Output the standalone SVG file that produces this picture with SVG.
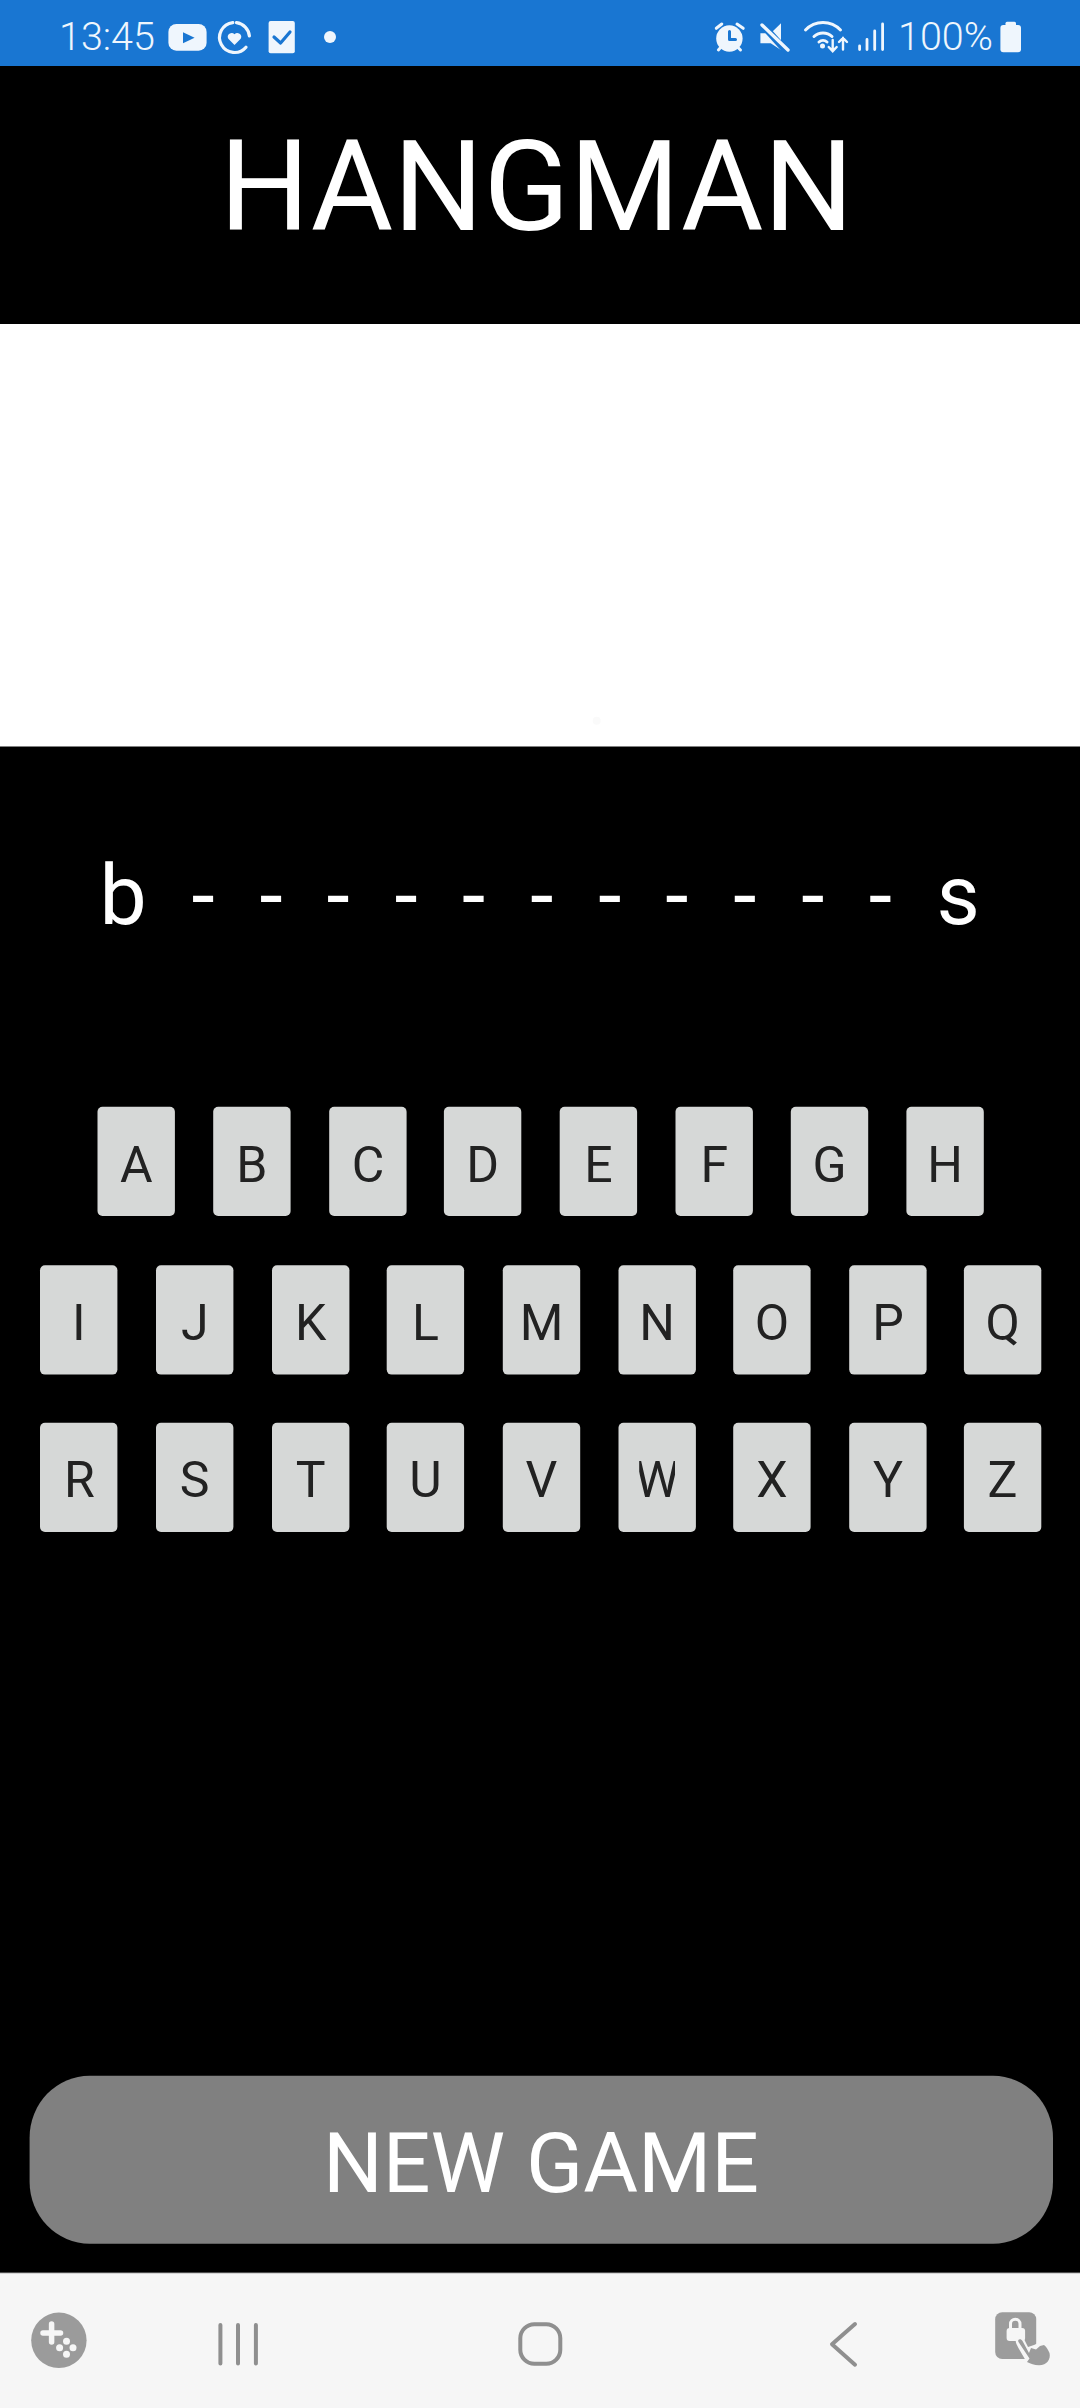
<svg xmlns="http://www.w3.org/2000/svg" width="1080" height="2408" viewBox="0 0 1080 2408">
<defs>
<style>
text{font-family:Roboto,"Liberation Sans",sans-serif}
.k{fill:#d6d8d7}
.kt{fill:#222;font-size:50px;text-anchor:middle}
.st{fill:#eff6fd;font-size:39px;font-weight:300}
.wt{fill:#fff}
.ic{fill:#eff6fd}
.ls{fill:none;stroke:#eff6fd;stroke-linecap:round}
.bl{fill:none;stroke:#1976d2;stroke-linecap:round;stroke-linejoin:round}
.nav{fill:none;stroke:#8f8f8f;stroke-width:4;stroke-linecap:round;stroke-linejoin:round}
</style>
<clipPath id="wclip"><rect x="639.2" y="1440" width="35.8" height="70"/></clipPath>
</defs>
<rect width="1080" height="2408" fill="#000"/>

<g id="status-bar">
<rect width="1080" height="66" fill="#1976d2"/>
<text class="st" x="59" y="50" style="font-size:39.5px">13:45</text>
<g id="icon-youtube"><rect class="ic" x="168.4" y="24" width="38.2" height="26.7" rx="8"/><path d="M183 32.3L194.6 37.8L183 43.3Z" fill="#1976d2"/></g>
<g id="icon-health"><path class="ls" stroke-width="3.2" d="M232.8 22.6A15 15 0 1 0 246 47.2M236.5 22.6A15 15 0 0 1 249.4 36"/><path class="ic" d="M234.5 45L228.3 38.8A3.9 3.9 0 0 1 234.5 34.2A3.9 3.9 0 0 1 240.7 38.8Z"/></g>
<g id="icon-check"><rect class="ic" x="268.6" y="21" width="26.2" height="32.3" rx="2"/><path class="bl" stroke-width="3.2" d="M274 37L280.6 43L290 32"/></g>
<circle class="ic" cx="330" cy="37" r="6"/>
<g id="icon-alarm"><circle class="ic" cx="729.4" cy="38.5" r="13.2"/><path class="ls" stroke-width="3" d="M716.3 28.3L721.8 24M743.2 28.3L737 24M718.4 50L721.5 46.5M740.5 50L737 46.5"/><path class="bl" stroke-width="3" d="M729.5 31.5V39.5H735.5"/></g>
<g id="icon-mute"><path class="ic" d="M781 23.3V50L770.7 43.3H760.4V33.3H770.7Z"/><path d="M760 22L787 52" stroke="#1976d2" stroke-width="7"/><path class="ls" stroke-width="3.4" d="M762 25L788 50"/></g>
<g id="icon-wifi"><path class="ls" stroke-width="3" d="M805.5 30A24 24 0 0 1 840.5 30M814 36.5A13 13 0 0 1 832 36.5M819 42A6 6 0 0 1 827 42"/><circle class="ic" cx="822.5" cy="46" r="2.5"/><path class="ls" stroke-width="2.4" d="M832.7 40V51M828.7 47L832.7 51.2L836.7 47M843 38V49.5M839 42L843 38L847 42"/></g>
<g id="icon-signal"><path class="ls" stroke-width="2.8" d="M859.6 46V49.5M867 39.5V49.5M874.7 31V49.5M882.6 24V49.5"/></g>
<text class="st" x="898" y="50" style="font-size:39.5px">100%</text>
<g id="icon-battery"><rect class="ic" x="1000.4" y="25" width="20.6" height="27.3" rx="3"/><rect class="ic" x="1005.5" y="21.7" width="10.5" height="6" rx="1.5"/></g>
</g>

<g id="title"><text x="219.5" y="230.3" font-size="126.4" class="wt">HANGMAN</text></g>

<rect id="image-panel" x="0" y="324" width="1080" height="422.5" fill="#fff"/>
<circle cx="596.7" cy="720.7" r="4" fill="#fafafa"/>

<g id="word">
<text y="923.7" font-size="84" class="wt"><tspan x="99.5">b</tspan><tspan x="191.6">-</tspan><tspan x="259.6">-</tspan><tspan x="326.5">-</tspan><tspan x="394.6">-</tspan><tspan x="462.1">-</tspan><tspan x="530.2">-</tspan><tspan x="598.3">-</tspan><tspan x="665.2">-</tspan><tspan x="733.2">-</tspan><tspan x="801.3">-</tspan><tspan x="868.8">-</tspan><tspan x="936.5">s</tspan></text>
</g>

<g id="keys">
<g id="key-A"><rect class="k" x="97.5" y="1106.7" width="77.4" height="109.3" rx="5"/><text class="kt" x="136.2" y="1181.7">A</text></g>
<g id="key-B"><rect class="k" x="213.2" y="1106.7" width="77.4" height="109.3" rx="5"/><text class="kt" x="251.9" y="1181.7">B</text></g>
<g id="key-C"><rect class="k" x="329.2" y="1106.7" width="77.4" height="109.3" rx="5"/><text class="kt" x="367.9" y="1181.7">C</text></g>
<g id="key-D"><rect class="k" x="443.9" y="1106.7" width="77.4" height="109.3" rx="5"/><text class="kt" x="482.6" y="1181.7">D</text></g>
<g id="key-E"><rect class="k" x="559.7" y="1106.7" width="77.4" height="109.3" rx="5"/><text class="kt" x="598.4" y="1181.7">E</text></g>
<g id="key-F"><rect class="k" x="675.5" y="1106.7" width="77.4" height="109.3" rx="5"/><text class="kt" x="714.2" y="1181.7">F</text></g>
<g id="key-G"><rect class="k" x="790.8" y="1106.7" width="77.4" height="109.3" rx="5"/><text class="kt" x="829.5" y="1181.7">G</text></g>
<g id="key-H"><rect class="k" x="906.4" y="1106.7" width="77.4" height="109.3" rx="5"/><text class="kt" x="945.1" y="1181.7">H</text></g>

<g id="key-I"><rect class="k" x="40" y="1265.3" width="77.4" height="109.3" rx="5"/><text class="kt" x="78.7" y="1340">I</text></g>
<g id="key-J"><rect class="k" x="156" y="1265.3" width="77.4" height="109.3" rx="5"/><text class="kt" x="194.7" y="1340">J</text></g>
<g id="key-K"><rect class="k" x="272" y="1265.3" width="77.4" height="109.3" rx="5"/><text class="kt" x="310.7" y="1340">K</text></g>
<g id="key-L"><rect class="k" x="386.7" y="1265.3" width="77.4" height="109.3" rx="5"/><text class="kt" x="425.4" y="1340">L</text></g>
<g id="key-M"><rect class="k" x="502.8" y="1265.3" width="77.4" height="109.3" rx="5"/><text class="kt" x="541.5" y="1340">M</text></g>
<g id="key-N"><rect class="k" x="618.5" y="1265.3" width="77.4" height="109.3" rx="5"/><text class="kt" x="657.2" y="1340">N</text></g>
<g id="key-O"><rect class="k" x="733.2" y="1265.3" width="77.4" height="109.3" rx="5"/><text class="kt" x="771.9" y="1340">O</text></g>
<g id="key-P"><rect class="k" x="849.2" y="1265.3" width="77.4" height="109.3" rx="5"/><text class="kt" x="887.9" y="1340">P</text></g>
<g id="key-Q"><rect class="k" x="963.9" y="1265.3" width="77.4" height="109.3" rx="5"/><text class="kt" x="1002.6" y="1340">Q</text></g>

<g id="key-R"><rect class="k" x="40" y="1422.7" width="77.4" height="109.3" rx="5"/><text class="kt" x="79.5" y="1497.3">R</text></g>
<g id="key-S"><rect class="k" x="156" y="1422.7" width="77.4" height="109.3" rx="5"/><text class="kt" x="194.7" y="1497.3">S</text></g>
<g id="key-T"><rect class="k" x="272" y="1422.7" width="77.4" height="109.3" rx="5"/><text class="kt" x="310.7" y="1497.3">T</text></g>
<g id="key-U"><rect class="k" x="386.7" y="1422.7" width="77.4" height="109.3" rx="5"/><text class="kt" x="425.4" y="1497.3">U</text></g>
<g id="key-V"><rect class="k" x="502.8" y="1422.7" width="77.4" height="109.3" rx="5"/><text class="kt" x="541.5" y="1497.3">V</text></g>
<g id="key-W"><rect class="k" x="618.5" y="1422.7" width="77.4" height="109.3" rx="5"/><text class="kt" x="657.2" y="1497.3" clip-path="url(#wclip)">W</text></g>
<g id="key-X"><rect class="k" x="733.2" y="1422.7" width="77.4" height="109.3" rx="5"/><text class="kt" x="771.9" y="1497.3">X</text></g>
<g id="key-Y"><rect class="k" x="849.2" y="1422.7" width="77.4" height="109.3" rx="5"/><text class="kt" x="887.9" y="1497.3">Y</text></g>
<g id="key-Z"><rect class="k" x="963.9" y="1422.7" width="77.4" height="109.3" rx="5"/><text class="kt" x="1002.6" y="1497.3">Z</text></g>
</g>

<g id="new-game">
<rect x="29.6" y="2075.7" width="1023.4" height="168" rx="60" ry="62" fill="#808080"/>
<text x="541" y="2192" font-size="84" class="wt" text-anchor="middle">NEW GAME</text>
</g>

<g id="nav-bar">
<rect y="2273" width="1080" height="135" fill="#f6f6f6"/>
<rect y="2272.6" width="1080" height="1" fill="#bdbdbd"/>
<g id="icon-game"><circle cx="58.9" cy="2340.3" r="27.7" fill="#9b9b9b"/><path d="M51.6 2324V2342M43 2333H60.5" stroke="#f6f6f6" stroke-width="5.5" stroke-linecap="round" fill="none"/><g fill="#f6f6f6"><circle cx="66.5" cy="2341.2" r="3.5"/><circle cx="59.6" cy="2347.7" r="3.5"/><circle cx="73" cy="2347.7" r="3.5"/><circle cx="66.5" cy="2354.3" r="3.5"/></g></g>
<path class="nav" d="M220.4 2325V2363.5M238 2325V2363.5M255.9 2325V2363.5"/>
<rect class="nav" x="520.3" y="2324.3" width="40" height="39.4" rx="14"/>
<path class="nav" d="M855 2324L832 2344.3L855 2364.7"/>
<g id="icon-lock">
<rect x="995.2" y="2312.3" width="41" height="46.7" rx="7" fill="#9c9c9c"/>
<rect x="1006.6" y="2328" width="18.5" height="13" rx="3" fill="#f6f6f6"/>
<path d="M1010.5 2329V2324A4.6 4.6 0 0 1 1020 2324V2329" fill="none" stroke="#f6f6f6" stroke-width="3"/>
<path d="M1017 2338C1014 2341 1017 2345 1019 2349L1026 2361L1020 2361L1020 2364L1036 2368L1050 2368L1052 2345L1040 2342L1034 2345L1028 2347L1024 2339Z" fill="#f6f6f6"/>
<path d="M1018.5 2342C1017 2339 1021 2338 1022.5 2341L1029 2353L1031 2348L1036 2349.5L1040 2346L1044 2345C1047 2347 1048 2350 1049.5 2353C1051 2359 1047 2365.3 1039 2365.3C1034 2365.3 1031 2363.5 1027 2362L1029.5 2358.5Z" fill="#9c9c9c"/>
</g>
</g>
</svg>
